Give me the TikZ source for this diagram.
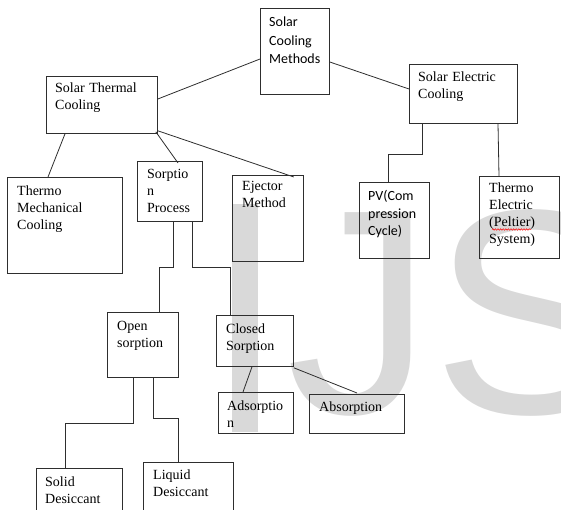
\documentclass[tikz,border=0pt]{standalone}
\usepackage{fontspec}
\setmainfont{Liberation Serif}
\newfontfamily\calibrifont{Carlito}
\newfontfamily\markfont{Liberation Sans}
\usetikzlibrary{calc,decorations.pathmorphing}
\definecolor{markgray}{HTML}{D9D9D9}
\definecolor{linegray}{HTML}{2E2E2E}
\tikzset{
  box/.style={draw=linegray, line width=0.8pt, inner sep=0pt, anchor=north west},
  link/.style={draw=linegray, line width=0.8pt},
  lbl/.style={anchor=base west, inner sep=0pt, text width=120pt, align=left,
              font=\fontsize{14}{17}\selectfont},
  lblsans/.style={lbl, font=\calibrifont\fontsize{14}{17.5}\selectfont},
}
\begin{document}
\begin{tikzpicture}[x=1pt,y=-1pt]
\useasboundingbox (0,0) rectangle (561,510);
\clip (0,0) rectangle (561,510);

% background mark
\fill[markgray] (232,204) rectangle (258,432);
\node[anchor=base west, inner sep=0pt, text=markgray,
      font=\markfont\fontsize{292}{300}\selectfont] (mark) at (286,413) {JS};

% boxes
\node[box, minimum width=69pt,  minimum height=86pt] (scm) at (260,8)   {};
\node[box, minimum width=111pt, minimum height=57pt] (stc) at (46,76)   {};
\node[box, minimum width=108pt, minimum height=59pt] (sec) at (409,64)  {};
\node[box, minimum width=115pt, minimum height=96pt] (tmc) at (7,177)   {};
\node[box, minimum width=65pt,  minimum height=60pt] (spr) at (137,161) {};
\node[box, minimum width=71pt,  minimum height=86pt] (ejm) at (232,175) {};
\node[box, minimum width=70pt,  minimum height=76pt] (pvc) at (359,182) {};
\node[box, minimum width=80pt,  minimum height=82pt] (tep) at (479,176) {};
\node[box, minimum width=71pt,  minimum height=65pt] (ops) at (107,312) {};
\node[box, minimum width=77pt,  minimum height=51pt] (cls) at (216,315) {};
\node[box, minimum width=75pt,  minimum height=41pt] (ads) at (218,392) {};
\node[box, minimum width=95pt,  minimum height=39pt] (abs) at (309,394) {};
\node[box, minimum width=86pt,  minimum height=50pt] (sol) at (36,468)  {};
\node[box, minimum width=90pt,  minimum height=56pt] (liq) at (143,462) {};

% labels
\node[lblsans, font=\calibrifont\fontsize{14}{18.3}\selectfont] (scm-t) at (269,27) {Solar\\Cooling\\Methods};
\node[lbl] (stc-t) at (55,93)   {Solar Thermal\\Cooling};
\node[lbl] (sec-t) at (418,82)  {Solar Electric\\Cooling};
\node[lbl] (tmc-t) at (17,196)  {Thermo\\Mechanical\\Cooling};
\node[lbl] (spr-t) at (147,179) {Sorptio\\n\\Process};
\node[lbl] (ejm-t) at (242,191) {Ejector\\Method};
\node[lblsans] (pvc-t) at (368,201) {PV(Com\\pression\\Cycle)};
\node[lbl] (tep-t) at (489,193) {Thermo\\Electric\\(Peltier)\\System)};
\node[lbl] (ops-t) at (117,330) {Open\\sorption};
\node[lbl] (cls-t) at (226,333) {Closed\\Sorption};
\node[lbl] (ads-t) at (227,410) {Adsorptio\\n};
\node[lbl] (abs-t) at (319,411) {Absorption};
\node[lbl] (sol-t) at (45,486)  {Solid\\Desiccant};
\node[lbl] (liq-t) at (153,479) {Liquid\\Desiccant};

% spelling squiggle under the word Peltier
\coordinate (sq-a) at (492,229.5);
\coordinate (sq-b) at (531,229.5);
\draw[red, line width=0.5pt, decorate,
      decoration={snake, amplitude=0.8pt, segment length=2.6pt}] (sq-a) -- (sq-b);

% connectors
\draw[link] ($(scm.north west)+(0,51)$) -- ($(stc.north east)+(0,23)$);
\draw[link] ($(scm.north east)+(0,54)$) -- ($(sec.north west)+(0,25)$);
\draw[link] ($(stc.south west)+(19,0)$) -- ($(tmc.north west)+(41,0)$);
\draw[link] ($(stc.south east)+(-2,-2)$) -- ($(spr.north west)+(41,2)$);
\draw[link] ($(stc.south east)+(0,-3)$) -- ($(ejm.north east)+(-10,2)$);
\draw[link] ($(spr.south west)+(36,0)$) -- ++(0,46) -| ($(ops.north west)+(52,0)$);
\draw[link] ($(spr.south west)+(55,0)$) -- ++(0,46) -| ($(cls.north west)+(14,0)$);
\draw[link] ($(sec.south west)+(13,0)$) -- ++(0,31) -| ($(pvc.north west)+(29,0)$);
\draw[link] ($(sec.south west)+(89,0)$) -- ($(tep.north west)+(20,0)$);
\draw[link] ($(ops.south west)+(26,0)$) -- ++(0,46) -| ($(sol.north west)+(29,0)$);
\draw[link] ($(ops.south west)+(46,0)$) -- ++(0,41) -| ($(liq.north west)+(35,0)$);
\draw[link] ($(cls.south west)+(36,0)$) -- ($(ads.north west)+(25,0)$);
\draw[link] ($(cls.south east)+(0,1)$) -- ($(abs.north west)+(48,-1)$);
\end{tikzpicture}
\end{document}
